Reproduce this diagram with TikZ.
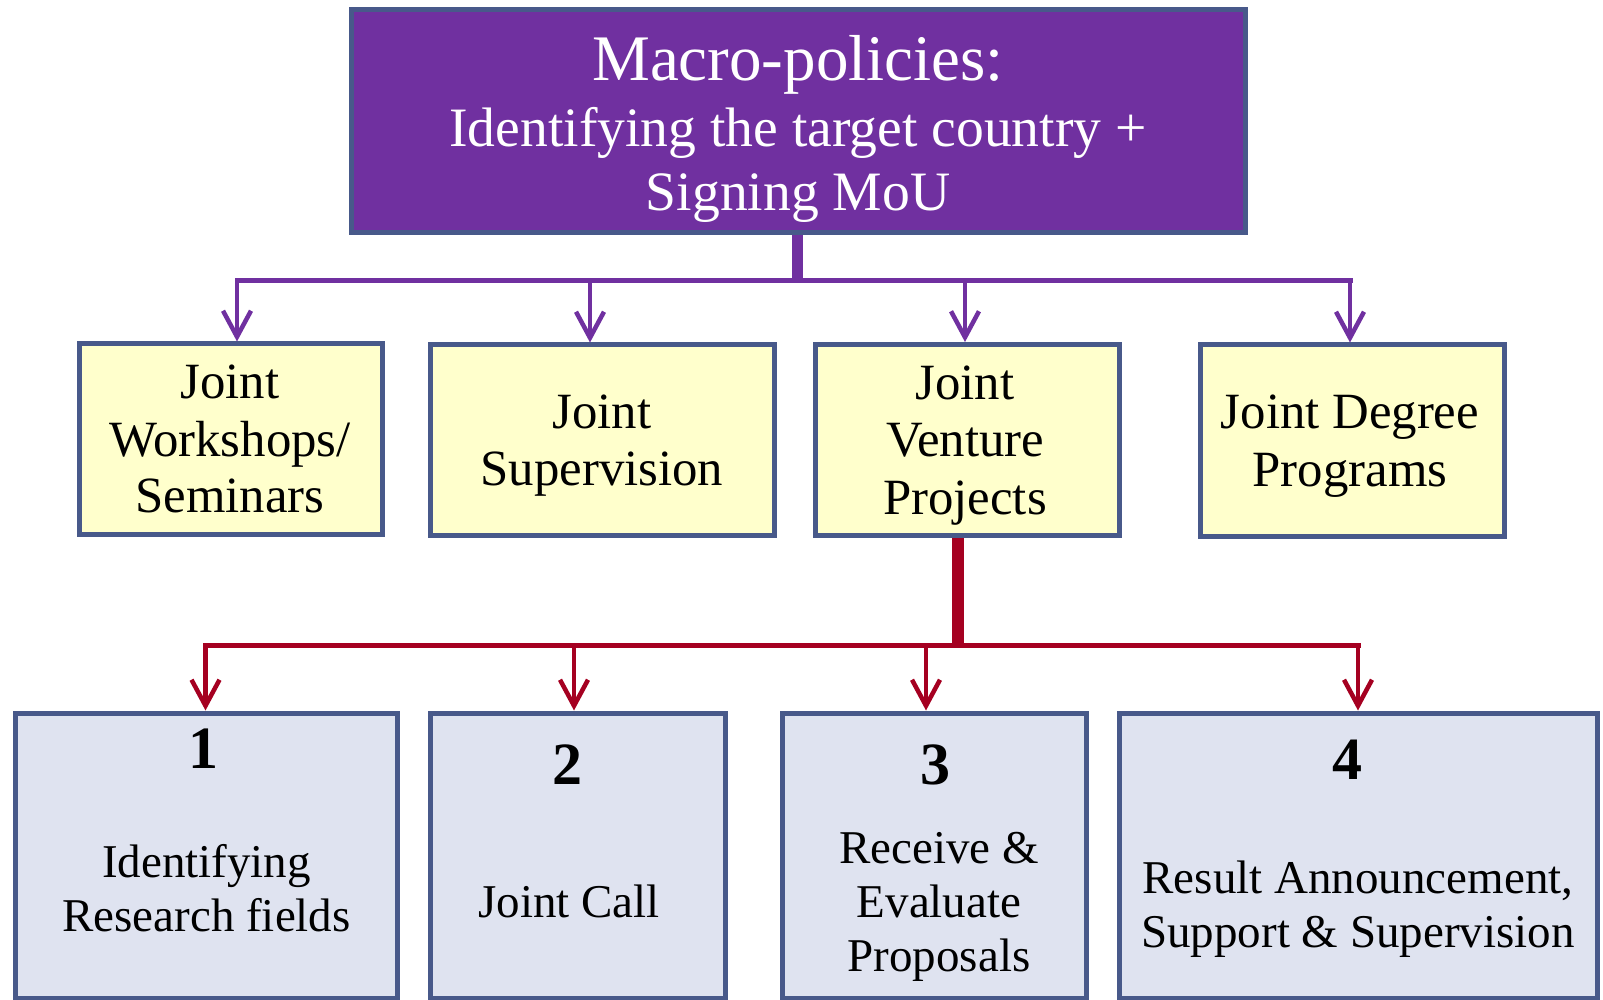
\documentclass[tikz,border=0pt]{standalone}
\usepackage{fontspec}
\setmainfont{Liberation Serif}
\usetikzlibrary{arrows.meta}
\definecolor{mpurple}{HTML}{7030A0}
\definecolor{mred}{HTML}{A50021}
\definecolor{mborder}{HTML}{48598A}
\definecolor{myellow}{HTML}{FFFFCC}
\definecolor{mblue}{HTML}{DFE3F0}
\begin{document}
\begin{tikzpicture}[x=0.5pt,y=-0.5pt,
  box/.style={draw=mborder, line width=2.5pt, rectangle, inner sep=0pt},
  topbox/.style={box, fill=mpurple},
  ybox/.style={box, fill=myellow},
  bbox/.style={box, fill=mblue},
  ttl/.style={anchor=base, inner sep=0pt, text=white, font=\fontsize{32.5}{39}\selectfont},
  sub/.style={anchor=base, inner sep=0pt, text=white, font=\fontsize{27.8}{33}\selectfont},
  ytxt/.style={anchor=base, inner sep=0pt, font=\fontsize{25.4}{30}\selectfont},
  btxt/.style={anchor=base, inner sep=0pt, font=\fontsize{23.5}{28}\selectfont},
  num/.style={anchor=base, inner sep=0pt, font=\fontsize{30}{36}\selectfont\bfseries},
  pstem/.style={draw=mpurple, line width=5.5pt},
  pbusline/.style={draw=mpurple, line width=2.5pt, line cap=rect},
  parrow/.style={draw=mpurple, line width=2.25pt, -{Straight Barb[length=13pt,width=14pt]}},
  rstem/.style={draw=mred, line width=6pt},
  rbusline/.style={draw=mred, line width=2.5pt, line cap=rect},
  rarrow/.style={draw=mred, line width=2.25pt, -{Straight Barb[length=13pt,width=14pt]}}
]
\useasboundingbox (0,0) rectangle (1603,1000);

% top box
\node[topbox, minimum width=447pt, minimum height=111.5pt] (top) at (798,121) {};
\node[ttl] (t1) at (798,81) {Macro-policies:};
\node[sub] (t2) at (798,147) {Identifying the target country +};
\node[sub] (t3) at (798,211) {Signing MoU};

% yellow boxes
\node[ybox, minimum width=151.5pt, minimum height=95.5pt] (y1) at (230.5,439.5) {};
\node[ybox, minimum width=171.75pt, minimum height=95.5pt] (y2) at (602.25,440.5) {};
\node[ybox, minimum width=152pt, minimum height=95.75pt] (y3) at (967,440.25) {};
\node[ybox, minimum width=152pt, minimum height=96pt] (y4) at (1352,441) {};

\node[ytxt] (y1a) at (230,399) {Joint};
\node[ytxt] (y1b) at (230,457) {Workshops/};
\node[ytxt] (y1c) at (230,513) {Seminars};
\node[ytxt] (y2a) at (602,429) {Joint};
\node[ytxt] (y2b) at (602,486) {Supervision};
\node[ytxt] (y3a) at (965,400) {Joint};
\node[ytxt] (y3b) at (965,457) {Venture};
\node[ytxt] (y3c) at (965,515) {Projects};
\node[ytxt] (y4a) at (1350,429) {Joint Degree};
\node[ytxt] (y4b) at (1350,487) {Programs};

% bottom boxes
\node[bbox, minimum width=191pt, minimum height=142.5pt] (b1) at (206,855.5) {};
\node[bbox, minimum width=147.5pt, minimum height=142.5pt] (b2) at (578,855.5) {};
\node[bbox, minimum width=151.75pt, minimum height=142.5pt] (b3) at (934.25,855.5) {};
\node[bbox, minimum width=239pt, minimum height=142.5pt] (b4) at (1358,855.5) {};

\node[num] (n1) at (203.5,768) {1};
\node[btxt] (b1a) at (206.5,877) {Identifying};
\node[btxt] (b1b) at (206.5,931) {Research fields};
\node[num] (n2) at (567.5,784) {2};
\node[btxt] (b2a) at (569,917) {Joint Call};
\node[num] (n3) at (935,784) {3};
\node[btxt] (b3a) at (939,863) {Receive \&};
\node[btxt] (b3b) at (939,917) {Evaluate};
\node[btxt] (b3c) at (939,971) {Proposals};
\node[num] (n4) at (1347,779) {4};
\node[btxt] (b4a) at (1358,893) {Result Announcement,};
\node[btxt] (b4b) at (1358,947) {Support \& Supervision};

% purple connectors
\coordinate (pbus) at (797,280.5);
\coordinate (pstemend) at (797,283);
\coordinate (pa1) at (237,280.5);
\coordinate (pa2) at (590,280.5);
\coordinate (pa3) at (965,280.5);
\coordinate (pa4) at (1350,280.5);
\draw[pstem] (top.south -| pbus) -- (pstemend);
\draw[pbusline] (pa1) -- (pa4);
\draw[parrow] (pa1) -- (pa1 |- y1.north);
\draw[parrow] (pa2) -- (pa2 |- y2.north);
\draw[parrow] (pa3) -- (pa3 |- y3.north);
\draw[parrow] (pa4) -- (pa4 |- y4.north);

% red connectors
\coordinate (rs) at (958,645.5);
\coordinate (rsend) at (958,648);
\coordinate (ra1) at (205.5,645.5);
\coordinate (ra2) at (574,645.5);
\coordinate (ra3) at (926,645.5);
\coordinate (ra4) at (1358,645.5);
\draw[rstem] (y3.south -| rs) -- (rsend);
\draw[rbusline] (ra1) -- (ra4);
\draw[rarrow] (ra1) -- (ra1 |- b1.north);
\draw[rarrow] (ra2) -- (ra2 |- b2.north);
\draw[rarrow] (ra3) -- (ra3 |- b3.north);
\draw[rarrow] (ra4) -- (ra4 |- b4.north);
\end{tikzpicture}
\end{document}
